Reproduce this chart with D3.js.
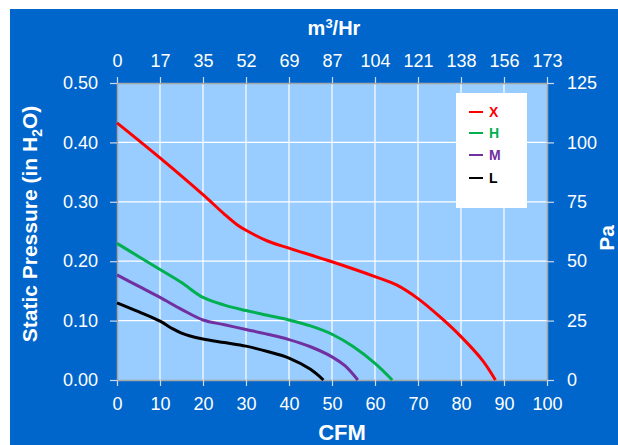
<!DOCTYPE html>
<html>
<head>
<meta charset="utf-8">
<script src="https://cdn.jsdelivr.net/npm/d3@7"></script>
<style>
html,body{margin:0;padding:0;background:#fff;}
svg{display:block;font-family:"Liberation Sans",Arial,sans-serif;}
</style>
</head>
<body>
<svg id="chart" width="618" height="445"></svg>
<script>
// ---- data ----
const cfmTicks = [0,10,20,30,40,50,60,70,80,90,100];
const m3hrLabels = ["0","17","35","52","69","87","104","121","138","156","173"];
const inchTicks = [0,0.1,0.2,0.3,0.4,0.5];
const paTicks = [0,25,50,75,100,125];

const seriesNames = ["X","H","M","L"];
const seriesColors = ["#FF0000","#00B050","#7030A0","#000000"];

const cfmX = [0,10,20,25,28,30,35,40,50,60,65,70,75,80,85,88];
const pX   = [0.433,0.374,0.312,0.279,0.261,0.252,0.234,0.222,0.199,0.174,0.16,0.137,0.107,0.073,0.033,0];
const cfmH = [0,5,10,15,20,25,30,35,40,45,50,55,60,64];
const pH   = [0.23,0.208,0.186,0.164,0.139,0.126,0.117,0.109,0.101,0.091,0.077,0.056,0.028,0];
const cfmM = [0,5,10,15,20,25,30,35,40,45,50,53,56];
const pM   = [0.177,0.158,0.139,0.119,0.101,0.093,0.085,0.077,0.068,0.056,0.039,0.024,0];
const cfmL = [0,5,10,13,15,17,20,25,30,35,40,45,48];
const pL   = [0.13,0.115,0.099,0.086,0.079,0.074,0.069,0.063,0.057,0.048,0.037,0.018,0];

const seriesX = [cfmX,cfmH,cfmM,cfmL];
const seriesY = [pX,pH,pM,pL];

// ---- layout ----
const svg = d3.select("#chart");
const L = 117, R = 547, T = 83, B = 380;
const blue = "#0066CC", plotBg = "#99CCFF";

svg.append("rect").attr("x",10).attr("y",9).attr("width",608).attr("height",436).attr("fill",blue);
svg.append("rect").attr("x",L).attr("y",T).attr("width",R-L).attr("height",B-T).attr("fill",plotBg);

const x = d3.scaleLinear().domain([0,100]).range([L,R]);
const y = d3.scaleLinear().domain([0,0.5]).range([B,T]);
const yPa = d3.scaleLinear().domain([0,125]).range([B,T]);

// grid
const grid = svg.append("g");
grid.selectAll("line.v").data(cfmTicks.slice(1,-1)).join("line")
  .attr("x1",d=>x(d)).attr("x2",d=>x(d)).attr("y1",T).attr("y2",B)
  .attr("stroke","#fff").attr("stroke-width",1.2);
grid.selectAll("line.h").data(inchTicks.slice(1,-1)).join("line")
  .attr("x1",L).attr("x2",R).attr("y1",d=>y(d)).attr("y2",d=>y(d))
  .attr("stroke","#fff").attr("stroke-width",1.2);

function styleAxis(g){
  g.select(".domain").attr("stroke","#A6A6A6").attr("stroke-width",1.5);
  g.selectAll(".tick line").attr("stroke","#D0D8E8").attr("stroke-width",1.2);
  g.selectAll(".tick text").attr("fill","#fff").attr("font-size","18px")
    .attr("font-family","'Liberation Sans',Arial,sans-serif");
}

svg.append("g").attr("transform",`translate(0,${B})`)
  .call(d3.axisBottom(x).tickValues(cfmTicks).tickFormat(d3.format("d")).tickSize(6).tickSizeOuter(0).tickPadding(11))
  .call(styleAxis);
svg.append("g").attr("transform",`translate(0,${T})`)
  .call(d3.axisTop(x).tickValues(cfmTicks).tickFormat((d,i)=>m3hrLabels[i]).tickSize(6).tickSizeOuter(0).tickPadding(10))
  .call(styleAxis);
svg.append("g").attr("transform",`translate(${L},0)`)
  .call(d3.axisLeft(y).tickValues(inchTicks).tickFormat(d3.format(".2f")).tickSize(7).tickSizeOuter(0).tickPadding(12))
  .call(styleAxis);
svg.append("g").attr("transform",`translate(${R},0)`)
  .call(d3.axisRight(yPa).tickValues(paTicks).tickFormat(d3.format("d")).tickSize(7).tickSizeOuter(0).tickPadding(13))
  .call(styleAxis);

// curves
const line = d3.line().x(d=>x(d[0])).y(d=>y(d[1])).curve(d3.curveCatmullRom.alpha(0.5));
seriesNames.forEach((n,i)=>{
  const pts = seriesX[i].map((v,j)=>[v,seriesY[i][j]]);
  svg.append("path").datum(pts).attr("d",line)
    .attr("fill","none").attr("stroke",seriesColors[i]).attr("stroke-width",3)
    .attr("stroke-linejoin","round");
});

// legend
const lg = svg.append("g");
lg.append("rect").attr("x",456).attr("y",93).attr("width",71).attr("height",115).attr("fill","#fff");
const ly = [112,133,155,178];
seriesNames.forEach((n,i)=>{
  lg.append("line").attr("x1",469).attr("x2",483).attr("y1",ly[i]).attr("y2",ly[i])
    .attr("stroke",seriesColors[i]).attr("stroke-width",2);
  lg.append("text").attr("x",489).attr("y",ly[i]).attr("dy","0.36em")
    .attr("font-size","14px").attr("font-weight","bold").attr("fill",seriesColors[i]).text(n);
});

// titles
svg.append("text").attr("x",342).attr("y",440).attr("text-anchor","middle")
  .attr("font-size","22px").attr("font-weight","bold").attr("fill","#fff").text("CFM");

const topTitle = svg.append("text").attr("x",334).attr("y",35).attr("text-anchor","middle")
  .attr("font-size","20px").attr("font-weight","bold").attr("fill","#fff");
topTitle.append("tspan").text("m");
topTitle.append("tspan").attr("font-size","13px").attr("dy","-7").text("3");
topTitle.append("tspan").attr("dy","7").text("/Hr");

const leftTitle = svg.append("text").attr("transform","translate(37,224) rotate(-90)").attr("text-anchor","middle")
  .attr("font-size","21px").attr("font-weight","bold").attr("fill","#fff");
leftTitle.append("tspan").text("Static Pressure (in H");
leftTitle.append("tspan").attr("font-size","14px").attr("dy","5").text("2");
leftTitle.append("tspan").attr("dy","-5").text("O)");

svg.append("text").attr("transform","translate(614,238) rotate(-90)").attr("text-anchor","middle")
  .attr("font-size","21px").attr("font-weight","bold").attr("fill","#fff").text("Pa");
</script>
</body>
</html>
